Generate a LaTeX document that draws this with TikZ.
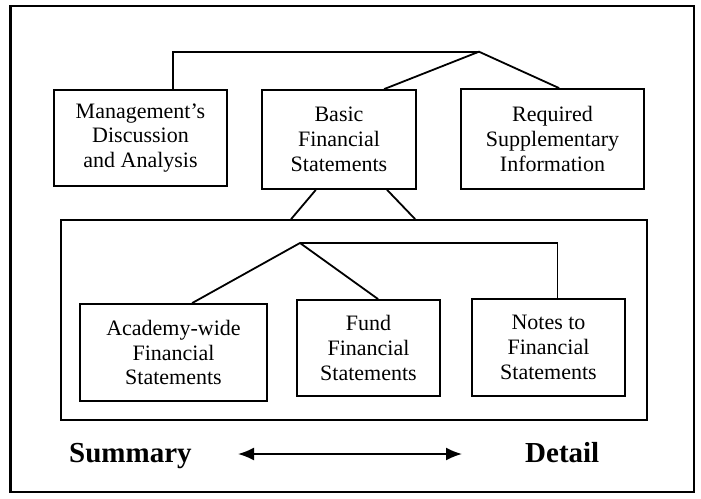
\documentclass[tikz,border=0pt]{standalone}
\usepackage{fontspec}
\setmainfont{Liberation Serif}
\usetikzlibrary{arrows.meta,calc}
\begin{document}
\begin{tikzpicture}[x=1pt,y=-1pt,
 box/.style={draw,line width=1.8pt,inner sep=0pt,align=center,font=\fontsize{22}{24.7}\selectfont},
 conn/.style={line width=1.8pt},
 lbl/.style={font=\fontsize{29}{32}\selectfont\bfseries,inner sep=0pt,anchor=base west}]
\useasboundingbox (0,0) rectangle (701,498);
\draw[line width=2.2pt] (10.5,6) rectangle (694,492);
% top row
\node[box,minimum width=173pt,minimum height=96pt] (mda) at (140.5,138) {Management’s\\Discussion\\and Analysis};
\node[box,minimum width=154pt,minimum height=99pt] (bfs) at (339,139.5) {Basic\\Financial\\Statements};
\node[box,minimum width=183pt,minimum height=100pt] (rsi) at (552.5,139) {Required\\Supplementary\\Information};
% group box
\node[draw,line width=1.8pt,inner sep=0pt,minimum width=586pt,minimum height=200pt] (grp) at (354,320) {};
% bottom row
\node[box,minimum width=187pt,minimum height=97pt] (aw) at (173.5,352.5) {Academy-wide\\Financial\\Statements};
\node[box,minimum width=143pt,minimum height=96pt] (fund) at (368.5,348) {Fund\\Financial\\Statements};
\node[box,minimum width=153pt,minimum height=97pt] (notes) at (548.5,347.5) {Notes to\\Financial\\Statements};
% top connectors
\coordinate (tl) at (173,51.7);
\coordinate (ta) at (479,51.7);
\draw[conn] (tl |- mda.north) -- (tl) -- (ta);
\draw[conn] ([xshift=123pt]bfs.north west) -- (ta) -- ([xshift=99pt]rsi.north west);
\draw[conn] ([xshift=54.7pt]bfs.south west) -- ([xshift=231pt]grp.north west);
\draw[conn] ([xshift=126pt]bfs.south west) -- ([xshift=355pt]grp.north west);
% inner connectors
\coordinate (ia) at (300,243);
\coordinate (ir) at (557.5,243);
\draw[conn] ([xshift=113pt]aw.north west) -- (ia) -- ([xshift=82pt]fund.north west);
\draw[conn] (ia) -- (ir) -- (ir |- notes.north);
% labels and arrow
\node[lbl] (sum) at (69,462) {Summary};
\node[lbl] (det) at (525,462) {Detail};
\coordinate (al) at (238,454);
\coordinate (ar) at (462,454);
\draw[line width=1.8pt,{Latex[length=16pt,width=13pt]}-{Latex[length=16pt,width=13pt]}] (al) -- (ar);
\end{tikzpicture}
\end{document}
